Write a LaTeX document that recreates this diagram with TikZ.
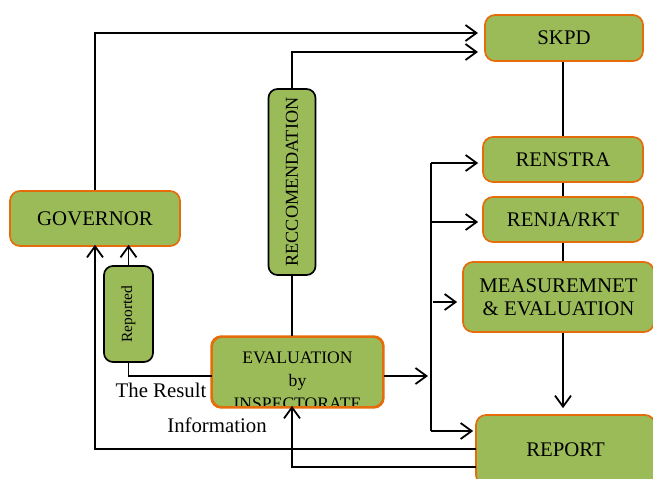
\documentclass[tikz,border=0pt]{standalone}
\usepackage{fontspec}
\setmainfont{Liberation Serif}
\usetikzlibrary{arrows.meta}
\definecolor{boxgreen}{RGB}{155,187,89}
\definecolor{boxorange}{RGB}{228,108,10}
\begin{document}
\begin{tikzpicture}[x=1pt,y=-1pt,
  box/.style={draw=boxorange,fill=boxgreen,line width=1.7pt,rounded corners=10pt,
    align=center,inner sep=0pt,font=\fontsize{20.8}{23}\selectfont},
  blackbox/.style={draw=black,fill=boxgreen,line width=1.7pt,rounded corners=9pt,
    inner sep=0pt},
  conn/.style={line width=1.8pt,draw=black},
  arr/.style={conn,-{Straight Barb[length=11pt,width=16pt,line width=1.8pt]}},
  lbl/.style={font=\fontsize{20.8}{23}\selectfont,inner sep=0pt,anchor=base}]
\useasboundingbox (0,0) rectangle (653,479);
\clip (0,0) rectangle (653,479);
% boxes
\node[box,minimum width=158pt,minimum height=46pt] (skpd) at (564,38) {SKPD};
\node[box,minimum width=160pt,minimum height=45pt] (renstra) at (563,159.5) {RENSTRA};
\node[box,minimum width=160pt,minimum height=45pt] (renja) at (563,219.5) {RENJA/RKT};
\node[box,minimum width=191pt,minimum height=70pt] (meas) at (558.5,297) {MEASUREMNET\\\& EVALUATION};
\node[box,minimum width=179pt,minimum height=70pt] (report) at (565.5,450) {REPORT};
\node[box,minimum width=170pt,minimum height=55pt] (gov) at (95,218.5) {GOVERNOR};
\node[blackbox,minimum width=49pt,minimum height=96pt] (rep) at (128.5,314)
  {\rotatebox{90}{\fontsize{15.5}{18}\selectfont Reported}};
\node[blackbox,minimum width=47pt,minimum height=186pt] (recc) at (292,182)
  {\rotatebox{90}{\fontsize{18.2}{20}\selectfont RECCOMENDATION}};
\node[box,minimum width=171pt,minimum height=70pt] (eval) at (297.5,372) {};
\begin{scope}
  \clip[rounded corners=9pt] (213,338) rectangle (382,405);
  \node[lbl,font=\fontsize{17.6}{20}\selectfont] (evt1) at (297.5,363) {EVALUATION};
  \node[lbl,font=\fontsize{17.6}{20}\selectfont] (evt2) at (297.5,386) {by};
  \node[lbl,font=\fontsize{17.6}{20}\selectfont] (evt3) at (297.5,409) {INSPECTORATE};
\end{scope}
\draw[draw=boxorange,line width=1.7pt,rounded corners=10pt] (eval.north west) rectangle (eval.south east);
% labels
\node[lbl] (res) at (161,397) {The Result};
\node[lbl] (inf) at (217,432) {Information};
% coordinates
\coordinate (s1) at (478,33);
\coordinate (s2) at (478,52);
\coordinate (e1) at (212,376);
\coordinate (e2) at (428,376);
\coordinate (r1) at (476,449);
\coordinate (r2) at (476,467);
\coordinate (v1) at (431,163);
\coordinate (v2) at (431,431);
\coordinate (v3) at (431,222);
\coordinate (v4) at (431,302);
% connectors
\draw[arr] (gov.north) |- (s1);
\draw[arr] (recc.north) |- (s2);
\draw[conn] (recc.south) -- (recc.south |- eval.north);
\draw[arr] (rep.north) -- ([yshift=2pt]rep.north |- gov.south);
\draw[conn] (rep.south) |- (e1);
\draw[arr] (r1) -| ([yshift=2pt]gov.south);
\draw[arr] (r2) -| ([yshift=2pt]recc.south |- eval.south);
\draw[arr] (e1 -| eval.east) -- (e2);
\draw[conn] (v1) -- (v2);
\draw[arr,shorten >=4pt] (v1) -- (v1 -| renstra.west);
\draw[arr,shorten >=4pt] (v3) -- (v3 -| renja.west);
\draw[arr,shorten >=5pt] ([xshift=2pt]v4) -- (v4 -| meas.west);
\draw[arr,shorten >=2pt] (v2) -- (v2 -| report.west);
\draw[conn] (skpd.south -| renstra.north) -- (renstra.north);
\draw[conn] (renstra.south) -- (renja.north);
\draw[conn] (renja.south) -- (renja.south |- meas.north);
\draw[arr,shorten >=6pt] (renja.south |- meas.south) -- (renja.south |- report.north);
\end{tikzpicture}
\end{document}
